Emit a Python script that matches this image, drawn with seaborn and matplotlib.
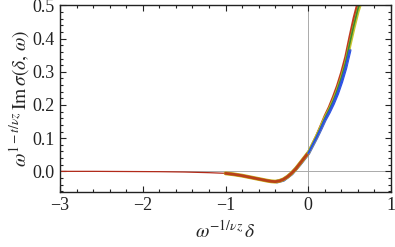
import matplotlib
matplotlib.use("Agg")
import matplotlib.pyplot as plt
import seaborn as sns
from matplotlib.ticker import MultipleLocator

# scaled data, one list per colour series
tail_x = [-3.0, -2.6, -2.2, -1.8, -1.5, -1.2, -1.0]
tail_y = [0.0, 0.0, -0.0005, -0.001, -0.002, -0.004, -0.006]

dip_x = [-1.0, -0.9, -0.8, -0.7, -0.6, -0.5, -0.45, -0.4, -0.35, -0.3, -0.25, -0.2, -0.15, -0.1, -0.05, 0.0]
dip_y = [-0.006, -0.009, -0.013, -0.018, -0.023, -0.028, -0.030, -0.031, -0.029, -0.024, -0.016, -0.005, 0.008, 0.024, 0.040, 0.056]

rise_x = [0.0, 0.05, 0.1, 0.15, 0.2, 0.25, 0.3, 0.35, 0.4, 0.45, 0.5, 0.55, 0.6, 0.63]
red_rise = [0.056, 0.082, 0.108, 0.137, 0.167, 0.193, 0.224, 0.258, 0.298, 0.345, 0.405, 0.462, 0.51, 0.53]
yellow_rise = [0.056, 0.080, 0.105, 0.132, 0.160, 0.184, 0.211, 0.243, 0.280, 0.322, 0.378, 0.432, 0.482, 0.505]
green_rise = [0.056, 0.080, 0.105, 0.132, 0.160, 0.185, 0.212, 0.245, 0.283, 0.327, 0.385, 0.440, 0.490, 0.51]

blue_x = [-0.38, -0.3, -0.2, -0.1, 0.0, 0.05, 0.1, 0.15, 0.2, 0.25, 0.3, 0.35, 0.4, 0.45, 0.5]
blue_y = [-0.031, -0.026, -0.007, 0.022, 0.054, 0.078, 0.102, 0.128, 0.155, 0.178, 0.204, 0.234, 0.270, 0.312, 0.365]

sns.set_style("ticks")
plt.rcParams["font.family"] = ["Liberation Serif", "DejaVu Serif"]
plt.rcParams["mathtext.fontset"] = "stix"

fig = plt.figure(figsize=(3.95, 2.47), dpi=100)
ax = fig.add_axes([0.152, 0.223, 0.838, 0.755])

ax.axhline(0, color="#aaaaaa", lw=0.7, zorder=0)
ax.axvline(0, color="#aaaaaa", lw=0.7, zorder=0)

sns.lineplot(x=tail_x, y=tail_y, color="#b22a1a", lw=0.9, ax=ax)
sns.lineplot(x=blue_x, y=blue_y, color="#2a4fe8", lw=2.6, ax=ax, sort=False)
sns.lineplot(x=dip_x, y=dip_y, color="#c9b21c", lw=2.8, ax=ax, sort=False)
sns.lineplot(x=dip_x, y=dip_y, color="#b8401a", lw=2.0, ax=ax, sort=False)
sns.lineplot(x=rise_x, y=red_rise, color="#c0391f", lw=1.8, ax=ax, sort=False)
sns.lineplot(x=rise_x, y=yellow_rise, color="#c8c630", lw=2.4, ax=ax, sort=False)
sns.lineplot(x=rise_x, y=green_rise, color="#3f8a2c", lw=1.2, ax=ax, sort=False)
sns.lineplot(x=blue_x[4:], y=blue_y[4:], color="#2a4fe8", lw=1.4, ax=ax, sort=False)

ax.set_xlim(-3, 1)
ax.set_ylim(-0.062, 0.5)
ax.xaxis.set_minor_locator(MultipleLocator(0.2))
ax.yaxis.set_minor_locator(MultipleLocator(0.02))
ax.set_xticks([-3, -2, -1, 0, 1])
ax.set_xticklabels(["\u22123", "\u22122", "\u22121", "0", "1"])
ax.set_yticks([0.0, 0.1, 0.2, 0.3, 0.4, 0.5])
ax.set_yticklabels(["0.0", "0.1", "0.2", "0.3", "0.4", "0.5"])
ax.tick_params(which="both", direction="in", top=True, right=True, labelsize=13, width=0.8, colors="#222222")
ax.tick_params(which="major", length=4, pad=4)
ax.tick_params(which="minor", length=2)
for s in ax.spines.values():
    s.set_linewidth(1.0)
    s.set_color("#222222")

ax.set_xlabel(r"$\omega^{-1/\nu z}\,\delta$", fontsize=14, labelpad=4)
ax.set_ylabel(r"$\omega^{1-t/\nu z}\,\mathrm{Im}\,\sigma(\delta,\,\omega)$", fontsize=14, labelpad=0)

fig.savefig("out.png", dpi=100)
